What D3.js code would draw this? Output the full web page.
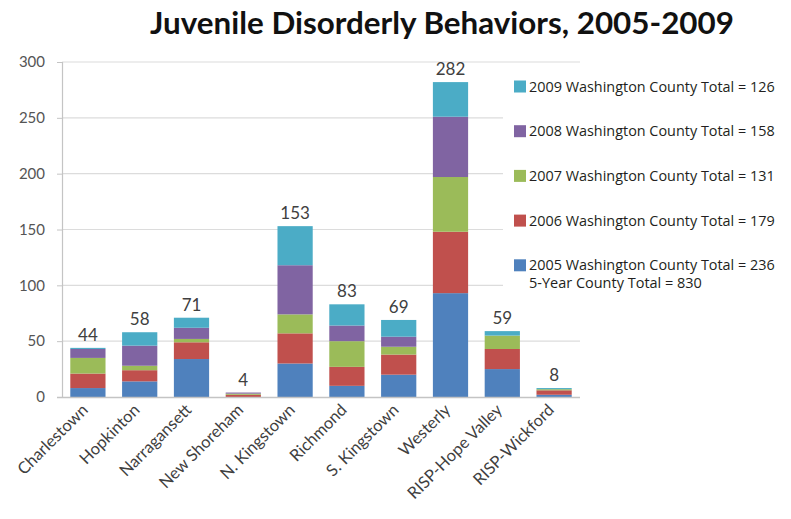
<!DOCTYPE html>
<html>
<head>
<meta charset="utf-8">
<script src="https://cdn.jsdelivr.net/npm/d3@7"></script>
<style>
  html, body { margin: 0; padding: 0; background: #ffffff; }
  svg { display: block; }
</style>
</head>
<body>
<svg id="chart" width="791" height="519"></svg>
<script>
// Juvenile disorderly behaviour counts by community, stacked by year
const towns = ["Charlestown", "Hopkinton", "Narragansett", "New Shoreham", "N. Kingstown",
               "Richmond", "S. Kingstown", "Westerly", "RISP-Hope Valley", "RISP-Wickford"];
const years = ["2005", "2006", "2007", "2008", "2009"];
const y2005 = [8, 14, 34, 0, 30, 10, 20, 93, 25, 2];
const y2006 = [13, 10, 15, 2, 27, 17, 18, 55, 18, 4];
const y2007 = [14, 4, 3, 1, 17, 23, 7, 49, 12, 1];
const y2008 = [8, 18, 10, 1, 44, 14, 9, 54, 0, 0];
const y2009 = [1, 12, 9, 0, 35, 19, 15, 31, 4, 1];
const townTotals = [44, 58, 71, 4, 153, 83, 69, 282, 59, 8];
const countyTotals = [236, 179, 131, 158, 126];
const fiveYearTotal = 830;
const yTicks = [0, 50, 100, 150, 200, 250, 300];
const colors = ["#4F81BD", "#C0504D", "#9BBB59", "#8064A2", "#4BACC6"];

const seriesValues = [y2005, y2006, y2007, y2008, y2009];
const rows = towns.map((t, i) => {
  const r = { town: t };
  years.forEach((yr, k) => { r[yr] = seriesValues[k][i]; });
  return r;
});

const svg = d3.select("#chart");
const plot = { left: 62, right: 580, top: 62, bottom: 397 };

const x = d3.scaleBand().domain(towns).range([plot.left, plot.right])
  .paddingInner(0.32).paddingOuter(0.16);
const y = d3.scaleLinear().domain([0, 300]).range([plot.bottom, plot.top]);
const color = d3.scaleOrdinal().domain(years).range(colors);

// title
const title = svg.append("text")
  .attr("x", 442).attr("y", 34)
  .attr("text-anchor", "middle")
  .attr("font-family", "Lato, 'Open Sans', sans-serif")
  .attr("font-weight", "bold")
  .attr("font-size", 28)
  .attr("fill", "#111")
  .text("Juvenile Disorderly Behaviors, 2005-2009");
{
  const w = title.node().getComputedTextLength();
  title.attr("font-size", 28 * 584 / w);
}

// gridlines
svg.append("g")
  .selectAll("line").data(yTicks.filter(d => d > 0)).join("line")
  .attr("x1", plot.left).attr("x2", plot.right)
  .attr("y1", d => y(d)).attr("y2", d => y(d))
  .attr("stroke", "#dcdcdc").attr("stroke-width", 1.2);

// y axis
const yAxis = svg.append("g")
  .attr("transform", `translate(${plot.left},0)`)
  .call(d3.axisLeft(y).tickValues(yTicks).tickSize(5).tickPadding(12));
yAxis.select(".domain").attr("stroke", "#c4c4c4").attr("stroke-width", 1.2);
yAxis.selectAll(".tick line").attr("stroke", "#c4c4c4");
yAxis.selectAll(".tick text")
  .attr("font-family", "Lato, 'Open Sans', sans-serif")
  .attr("font-size", 15).attr("fill", "#555");

// stacked bars
const stacked = d3.stack().keys(years)(rows);
svg.append("g")
  .selectAll("g").data(stacked).join("g")
  .attr("fill", d => color(d.key))
  .selectAll("rect").data(d => d).join("rect")
  .attr("x", d => x(d.data.town))
  .attr("width", x.bandwidth())
  .attr("y", d => y(d[1]))
  .attr("height", d => y(d[0]) - y(d[1]));

// x axis baseline
svg.append("line")
  .attr("x1", plot.left - 5).attr("x2", plot.right)
  .attr("y1", plot.bottom + 0.5).attr("y2", plot.bottom + 0.5)
  .attr("stroke", "#c4c4c4").attr("stroke-width", 1.4);

// totals above bars
svg.append("g")
  .selectAll("text").data(towns).join("text")
  .attr("x", d => x(d) + x.bandwidth() / 2)
  .attr("y", (d, i) => y(townTotals[i]) - 7)
  .attr("text-anchor", "middle")
  .attr("font-family", "Lato, 'Open Sans', sans-serif")
  .attr("font-size", 17)
  .attr("fill", "#404040")
  .text((d, i) => townTotals[i]);

// rotated category labels
svg.append("g")
  .selectAll("text").data(towns).join("text")
  .attr("transform", d => `translate(${x(d) + x.bandwidth() / 2 + 1},${plot.bottom + 14}) rotate(-45)`)
  .attr("text-anchor", "end")
  .attr("font-family", "Lato, 'Open Sans', sans-serif")
  .attr("font-size", 16.5)
  .attr("fill", "#404040")
  .text(d => d);

// legend
const legend = svg.append("g");
legend.append("rect")
  .attr("x", 503).attr("y", 67).attr("width", 288).attr("height", 230)
  .attr("fill", "#ffffff");
const legendYears = years.slice().reverse();
const legendRows = legend.selectAll("g.item").data(legendYears).join("g")
  .attr("class", "item")
  .attr("transform", (d, i) => `translate(514,${86.5 + i * 44.7})`);
legendRows.append("rect")
  .attr("x", 0).attr("y", -6).attr("width", 12).attr("height", 12)
  .attr("fill", d => color(d));
legendRows.append("text")
  .attr("x", 15).attr("y", 5)
  .attr("font-family", "'Open Sans', Lato, sans-serif")
  .attr("font-size", 14)
  .attr("fill", "#231f20")
  .text(d => `${d} Washington County Total = ${countyTotals[years.indexOf(d)]}`);
legend.append("text")
  .attr("x", 529).attr("y", 288)
  .attr("font-family", "'Open Sans', Lato, sans-serif")
  .attr("font-size", 14)
  .attr("fill", "#231f20")
  .text(`5-Year County Total = ${fiveYearTotal}`);
// fit legend text widths
legend.selectAll("text").each(function () {
  const w = this.getComputedTextLength();
  const target = this.textContent.startsWith("5-Year") ? 173 : 246;
  d3.select(this).attr("font-size", 14 * target / w);
});
</script>
</body>
</html>
